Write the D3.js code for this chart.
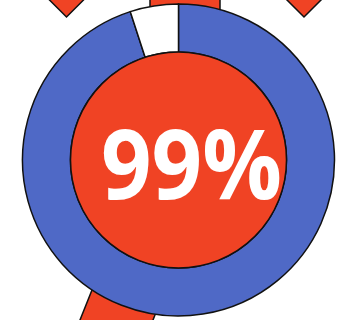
<!DOCTYPE html>
<html>
<head>
<meta charset="utf-8">
<script src="https://cdn.jsdelivr.net/npm/d3@7"></script>
<style>
  html, body { margin: 0; padding: 0; background: #ffffff; }
  svg { display: block; }
</style>
</head>
<body>
<svg id="chart" width="339" height="320"></svg>
<script>
// Ring segments: filled share and remaining share
const segmentNames = ["Achieved", "Remaining"];
const segmentValues = [95, 5];
const segmentColors = ["#4F69C6", "#FFFFFF"];
// Headline figure shown in the centre
const headline = ["99%"];

const W = 339, H = 320;
const cx = 178.5, cy = 160;
const outerR = 156, innerR = 108;
const red = "#F04324";
const ink = "#111111";

const svg = d3.select("#chart");
const g = svg.append("g").attr("transform", `translate(${cx},${cy})`);

// Ribbon pieces behind the badge
const ribbons = g.append("g").attr("fill", red).attr("stroke", ink).attr("stroke-width", 1.5)
  .attr("stroke-linejoin", "miter");
// top-centre strap
ribbons.append("rect")
  .attr("x", -28.5).attr("y", -outerR - 12).attr("width", 70).attr("height", 60);
// left and right pointed ends
[[-112, -143], [125.5, -143]].forEach(([tx, ty]) => {
  ribbons.append("path")
    .attr("d", `M${tx - 30},${ty - 30} L${tx},${ty} L${tx + 30},${ty - 30} Z`);
});
// lower tail, tilted
ribbons.append("path")
  .attr("d", (() => {
    const k = 12 / 30; // horizontal shift per unit of height
    const yTop = 60, yBot = cy + 10;
    const xl = (y) => -98.5 - (y - 160) * k;
    const xr = (y) => -25.5 - (y - 160) * k;
    return `M${xl(yTop)},${yTop} L${xr(yTop)},${yTop} L${xr(yBot)},${yBot} L${xl(yBot)},${yBot} Z`;
  })());

// Ring
const pie = d3.pie().sort(null).startAngle(0).endAngle(2 * Math.PI)
  .value((d, i) => segmentValues[i]);
const arc = d3.arc().innerRadius(innerR).outerRadius(outerR);

g.selectAll("path.seg")
  .data(pie(segmentNames))
  .join("path")
  .attr("class", "seg")
  .attr("d", arc)
  .attr("fill", (d, i) => segmentColors[i])
  .attr("stroke", ink)
  .attr("stroke-width", 1.5);

// Centre disc
g.append("circle")
  .attr("r", innerR)
  .attr("fill", red)
  .attr("stroke", ink)
  .attr("stroke-width", 1.5);

// Headline
g.selectAll("text.headline")
  .data(headline)
  .join("text")
  .attr("class", "headline")
  .attr("x", 13)
  .attr("y", 39)
  .attr("text-anchor", "middle")
  .attr("fill", "#ffffff")
  .attr("font-family", "'Open Sans', sans-serif")
  .attr("font-weight", 700)
  .attr("font-size", 96)
  .attr("textLength", 181)
  .attr("lengthAdjust", "spacingAndGlyphs")
  .text(d => d);
</script>
</body>
</html>
